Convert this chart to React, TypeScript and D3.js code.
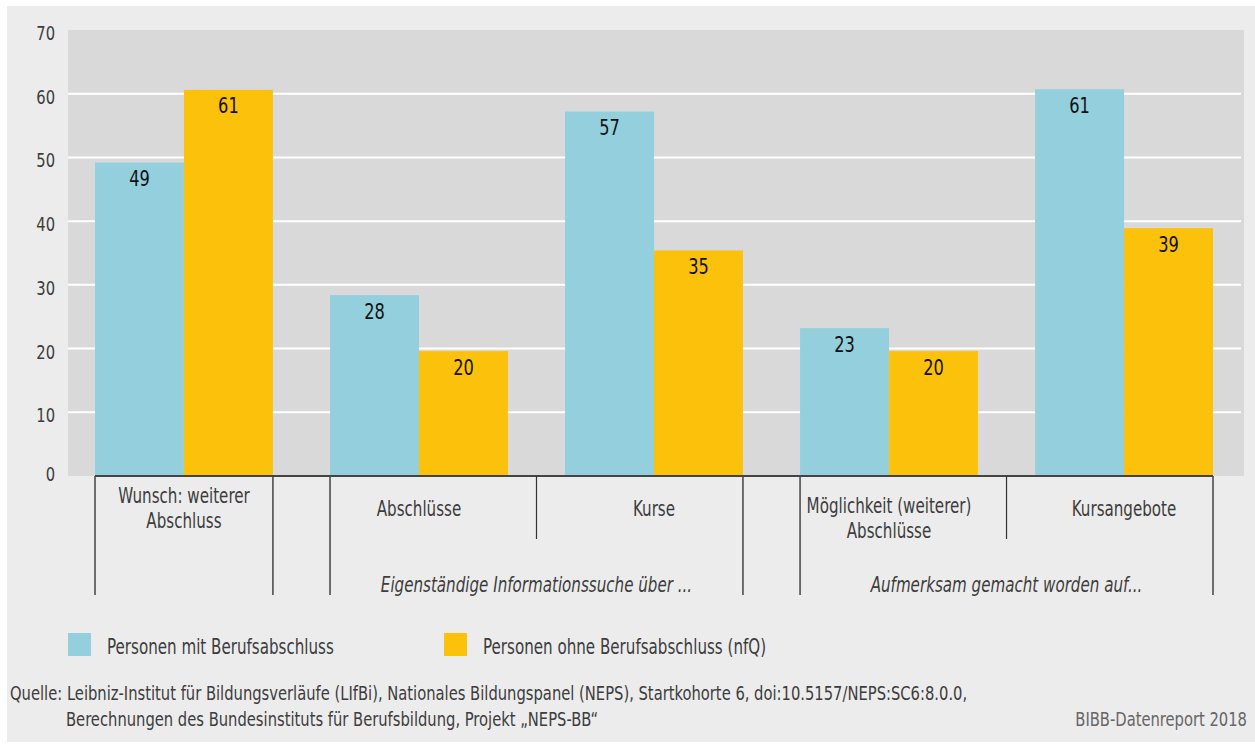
import React from 'react';
import * as d3 from 'd3';

const categories = [
  ['Wunsch: weiterer', 'Abschluss'],
  ['Abschlüsse'],
  ['Kurse'],
  ['Möglichkeit (weiterer)', 'Abschlüsse'],
  ['Kursangebote'],
];
const mitAbschluss = [49.2, 28.4, 57.2, 23.2, 60.7];
const ohneAbschluss = [60.6, 19.6, 35.4, 19.6, 38.9];
const seriesNames = ['Personen mit Berufsabschluss', 'Personen ohne Berufsabschluss (nfQ)'];
const yTicks = [0, 10, 20, 30, 40, 50, 60, 70];
const groupLabels = [
  { label: 'Eigenständige Informationssuche über ...', from: 1, to: 2 },
  { label: 'Aufmerksam gemacht worden auf...', from: 3, to: 4 },
];
const sourceLines = [
  'Quelle: Leibniz-Institut für Bildungsverläufe (LIfBi), Nationales Bildungspanel (NEPS), Startkohorte 6, doi:10.5157/NEPS:SC6:8.0.0,',
  'Berechnungen des Bundesinstituts für Berufsbildung, Projekt „NEPS-BB“',
];

const W = 1255;
const H = 749;
const FONT = '"DejaVu Sans Condensed", "DejaVu Sans", sans-serif';
const BLUE = '#94cfdd';
const YELLOW = '#fcc10b';
const TEXT = '#3d3d3d';
const SX = 0.82; // squeeze to imitate the narrow house font

const plot = { left: 68, right: 1244, top: 30, bottom: 476 };

// text squeezed horizontally around its anchor point
function T(props: {
  x: number;
  y: number;
  size: number;
  anchor?: string;
  fill?: string;
  italic?: boolean;
  children: React.ReactNode;
}) {
  const { x, y, size, anchor = 'start', fill = TEXT, italic, children } = props;
  return (
    <text
      transform={`translate(${x},${y}) scale(${SX},1)`}
      textAnchor={anchor}
      fontSize={size}
      fill={fill}
      fontStyle={italic ? 'italic' : 'normal'}
    >
      {children}
    </text>
  );
}

export default function App() {
  const y = d3.scaleLinear().domain([0, 70]).range([plot.bottom, plot.top]);
  const x = d3
    .scaleBand<number>()
    .domain(d3.range(categories.length))
    .range([95, 1213])
    .paddingInner(0.243)
    .paddingOuter(0);
  const sub = d3.scaleBand<number>().domain([0, 1]).range([0, x.bandwidth()]);
  const series = [mitAbschluss, ohneAbschluss];
  const colors = [BLUE, YELLOW];

  const bandStart = (i: number) => x(i)!;
  const bandEnd = (i: number) => x(i)! + x.bandwidth();
  const gapMid = (i: number) => (bandEnd(i) + bandStart(i + 1)) / 2;

  // vertical separators below the axis
  const longLines = [bandStart(0), bandEnd(0), bandStart(1), bandEnd(2), bandStart(3), bandEnd(4)];
  const shortLines = [gapMid(1), gapMid(3)];

  return (
    <svg
      width={W}
      height={H}
      style={{ position: 'absolute', left: 0, top: 0, fontFamily: FONT }}
    >
      <rect x={0} y={0} width={W} height={H} fill="#fff" />
      <rect x={7} y={6} width={W - 7} height={736} fill="#ececec" />
      <rect
        x={plot.left}
        y={plot.top}
        width={plot.right - plot.left}
        height={plot.bottom - plot.top}
        fill="#d9d9d9"
      />

      {/* gridlines */}
      {yTicks.slice(1, -1).map((t) => (
        <line
          key={t}
          x1={plot.left}
          x2={1241}
          y1={y(t)}
          y2={y(t)}
          stroke="#fff"
          strokeWidth={2}
        />
      ))}

      {/* y tick labels */}
      {yTicks.map((t) => (
        <T key={t} x={55} y={Math.min(y(t) + 10, 481)} size={20} anchor="end">
          {t}
        </T>
      ))}

      {/* bars */}
      {series.map((vals, s) =>
        vals.map((v, i) => {
          const bx = x(i)! + sub(s)!;
          return (
            <g key={`${s}-${i}`}>
              <rect
                x={bx}
                y={y(v)}
                width={sub.bandwidth()}
                height={plot.bottom - y(v)}
                fill={colors[s]}
              />
              <T x={bx + sub.bandwidth() / 2} y={y(v) + 23.5} size={22} anchor="middle" fill="#111">
                {Math.round(v)}
              </T>
            </g>
          );
        })
      )}

      {/* axis line */}
      <line x1={bandStart(0)} x2={bandEnd(4)} y1={476} y2={476} stroke="#444" strokeWidth={2} />

      {longLines.map((lx, i) => (
        <line key={`l${i}`} x1={lx} x2={lx} y1={476} y2={595} stroke="#444" strokeWidth={1.5} />
      ))}
      {shortLines.map((lx, i) => (
        <line key={`s${i}`} x1={lx} x2={lx} y1={476} y2={539} stroke="#333" strokeWidth={1.2} />
      ))}

      {/* category labels */}
      {categories.map((lines, i) => {
        const cx = x(i)! + x.bandwidth() / 2;
        const baseY = lines.length > 1 ? (i === 0 ? 503 : 513) : 516;
        return (
          <g key={i}>
            {lines.map((l, j) => (
              <T key={j} x={cx} y={baseY + j * 25} size={20.5} anchor="middle">
                {l}
              </T>
            ))}
          </g>
        );
      })}

      {groupLabels.map((g) => (
        <T
          key={g.label}
          x={(bandStart(g.from) + bandEnd(g.to)) / 2}
          y={592}
          size={20.5}
          anchor="middle"
          italic
        >
          {g.label}
        </T>
      ))}

      {/* legend */}
      {seriesNames.map((name, s) => {
        const lx = [68, 444][s];
        return (
          <g key={name}>
            <rect x={lx} y={633} width={23} height={23} fill={colors[s]} />
            <T x={lx + 39} y={654} size={20.5}>
              {name}
            </T>
          </g>
        );
      })}

      {/* source */}
      <T x={10} y={700} size={20}>
        {sourceLines[0]}
      </T>
      <T x={66} y={726} size={20}>
        {sourceLines[1]}
      </T>
      <T x={1247} y={726} size={20} fill="#666" anchor="end">
        BIBB-Datenreport 2018
      </T>
    </svg>
  );
}
